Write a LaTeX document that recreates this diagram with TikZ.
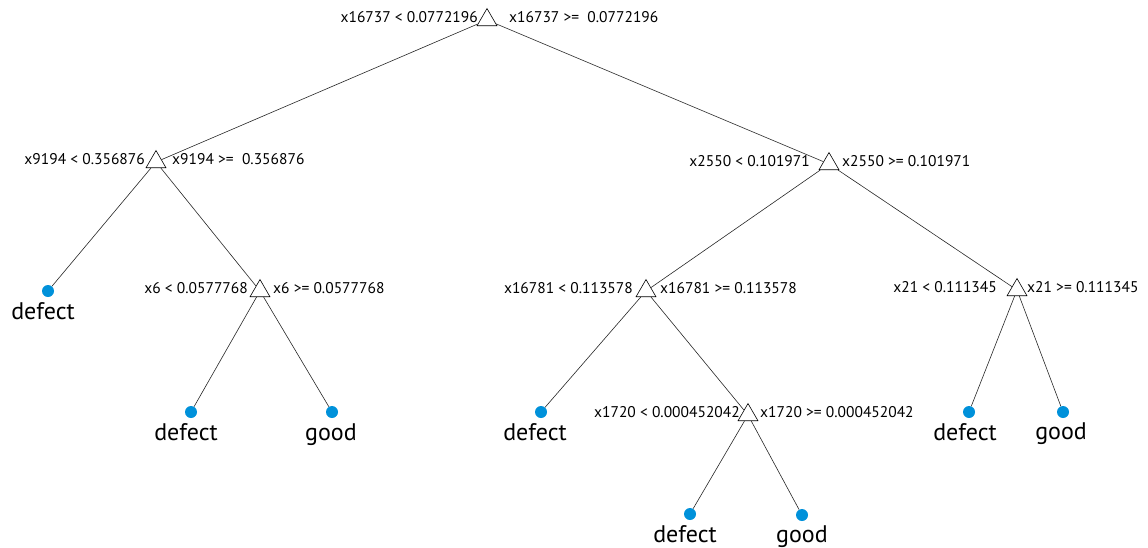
\documentclass[tikz,border=0pt]{standalone}
\usepackage{fontspec}
\setmainfont{PT Sans}
\usetikzlibrary{positioning,shapes.geometric}

\definecolor{leafblue}{RGB}{0,145,218}

\begin{document}
\begin{tikzpicture}[x=1pt,y=-1pt,node distance=5pt,
    split/.style={regular polygon,regular polygon sides=3,draw,fill=white,
                  inner sep=0pt,minimum size=23pt,line width=0.6pt},
    leaf/.style={circle,fill=leafblue,inner sep=0pt,minimum size=12pt},
    cond/.style={font=\fontsize{15.5}{18}\selectfont,inner sep=0pt,yshift=3pt},
    cls/.style={font=\fontsize{24}{28}\selectfont,inner sep=0pt},
    branch/.style={draw=black!85,line width=0.6pt}]
    \useasboundingbox (0,0) rectangle (1148,547);

    % splits
    \node[split] (root) at (487,20) {};
    \node[split] (t1) at (156,162) {};
    \node[split] (t2) at (829,164) {};
    \node[split] (t3) at (260,291) {};
    \node[split] (t4) at (646,291) {};
    \node[split] (t5) at (1017,290) {};
    \node[split] (t6) at (748,415) {};

    \node[cond] (root-l) [left=2pt of root] {x16737 < 0.0772196};
    \node[cond] (root-r) [right=15pt of root] {x16737 >=\ \ 0.0772196};
    \node[cond] (t1-l) [left=4pt of t1] {x9194 < 0.356876};
    \node[cond] (t1-r) [right=9pt of t1] {x9194 >=\ \ 0.356876};
    \node[cond] (t2-l) [left=12pt of t2] {x2550 < 0.101971};
    \node[cond] (t2-r) [right=6pt of t2] {x2550 >= 0.101971};
    \node[cond] (t3-l) [left=5pt of t3] {x6 < 0.0577768};
    \node[cond] (t3-r) [right=6pt of t3] {x6 >= 0.0577768};
    \node[cond] (t4-l) [left=6pt of t4] {x16781 < 0.113578};
    \node[cond] (t4-r) [right=7pt of t4] {x16781 >= 0.113578};
    \node[cond] (t5-l) [left=13pt of t5] {x21 < 0.111345};
    \node[cond] (t5-r) [right=3pt of t5] {x21 >= 0.111345};
    \node[cond] (t6-l) [left=1pt of t6] {x1720 < 0.000452042};
    \node[cond] (t6-r) [right=5pt of t6] {x1720 >= 0.000452042};

    % leaves
    \node[leaf] (d1) at (48,291) {};
    \node[leaf] (d2) at (191,412) {};
    \node[leaf] (g1) at (332,412) {};
    \node[leaf] (d3) at (541,412) {};
    \node[leaf] (d4) at (690,514) {};
    \node[leaf] (g2) at (802,515) {};
    \node[leaf] (d5) at (969,412) {};
    \node[leaf] (g3) at (1063,412) {};

    \node[cls,xshift=-5pt] (d1-t) [below=5pt of d1] {defect};
    \node[cls,xshift=-5pt] (d2-t) [below=5pt of d2] {defect};
    \node[cls,xshift=-1pt] (g1-t) [below=5pt of g1] {good};
    \node[cls,xshift=-6pt] (d3-t) [below=5pt of d3] {defect};
    \node[cls,xshift=-5pt] (d4-t) [below=5pt of d4] {defect};
    \node[cls] (g2-t) [below=4pt of g2] {good};
    \node[cls,xshift=-4pt] (d5-t) [below=5pt of d5] {defect};
    \node[cls,xshift=-2pt] (g3-t) [below=4pt of g3] {good};

    \path[branch] (root) edge (t1);
    \path[branch] (root) edge (t2);
    \path[branch] (t1) edge (d1);
    \path[branch] (t1) edge (t3);
    \path[branch] (t3) edge (d2);
    \path[branch] (t3) edge (g1);
    \path[branch] (t2) edge (t4);
    \path[branch] (t2) edge (t5);
    \path[branch] (t4) edge (d3);
    \path[branch] (t4) edge (t6);
    \path[branch] (t6) edge (d4);
    \path[branch] (t6) edge (g2);
    \path[branch] (t5) edge (d5);
    \path[branch] (t5) edge (g3);
\end{tikzpicture}
\end{document}
